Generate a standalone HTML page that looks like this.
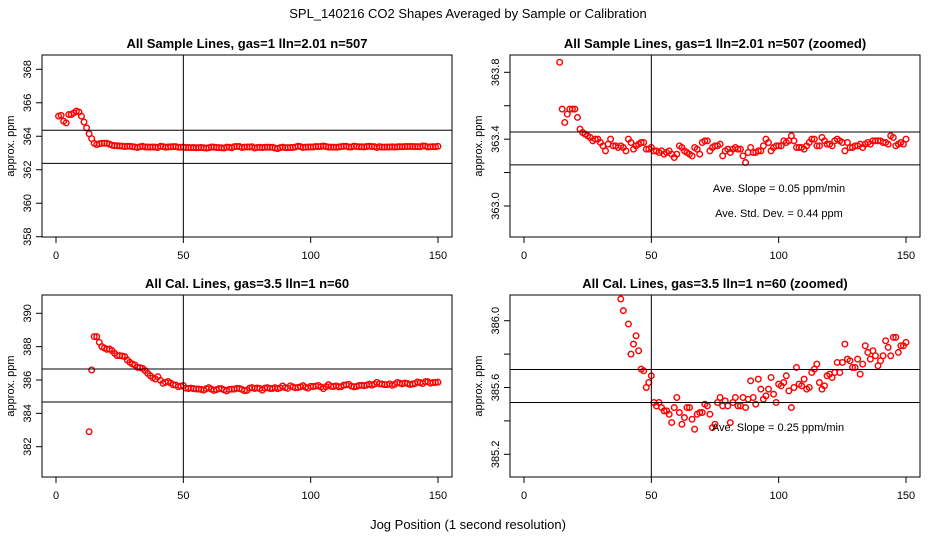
<!DOCTYPE html>
<html><head><meta charset="utf-8"><style>
html,body{margin:0;padding:0;background:#fff;width:936px;height:540px;overflow:hidden;}
svg{display:block;font-family:"Liberation Sans",sans-serif;}
</style></head><body>
<svg id="chart" width="936" height="540" viewBox="0 0 936 540" xmlns="http://www.w3.org/2000/svg">
<rect width="936" height="540" fill="#fff"/>
<text x="468" y="18" text-anchor="middle" font-size="13">SPL_140216  CO2 Shapes Averaged by Sample or Calibration</text>
<text x="468" y="529" text-anchor="middle" font-size="13">Jog Position (1 second resolution)</text>
</svg>
<script>
const xTicks = [0, 50, 100, 150];
const sampleValues = [365.2,365.25,364.9,364.8,365.3,365.3,365.4,365.5,365.45,365.2,364.85,364.5,364.15,
363.86,363.58,363.50,363.55,363.58,363.58,363.58,363.53,363.46,363.44,363.43,363.42,363.41,363.39,363.40,363.40,
363.38,363.36,363.33,363.37,363.40,363.36,363.36,363.35,363.36,363.35,363.33,363.40,363.38,363.34,363.36,363.37,
363.38,363.38,363.34,363.34,363.35,363.33,363.33,363.32,363.33,363.31,363.32,363.33,363.31,363.29,363.31,
363.36,363.35,363.33,363.32,363.31,363.30,363.35,363.34,363.31,363.38,363.39,363.39,363.33,363.35,363.36,
363.36,363.37,363.30,363.33,363.34,363.32,363.34,363.35,363.34,363.34,363.30,363.26,363.32,363.35,363.32,
363.32,363.33,363.33,363.36,363.40,363.38,363.33,363.35,363.36,363.36,363.36,363.39,363.38,363.39,363.42,
363.39,363.35,363.35,363.35,363.34,363.36,363.38,363.40,363.40,363.36,363.36,363.41,363.39,363.37,363.37,
363.36,363.39,363.40,363.39,363.38,363.33,363.38,363.35,363.35,363.36,363.36,363.37,363.35,363.37,363.38,
363.37,363.39,363.39,363.39,363.39,363.38,363.38,363.37,363.42,363.41,363.36,363.37,363.38,363.37,363.40];
const calValues = [null,null,null,null,null,null,null,null,null,null,null,null,
382.9,386.6,388.6,388.6,388.26,388.0,387.92,387.84,387.86,387.76,387.6,387.46,387.46,387.44,387.4,387.2,387.06,386.96,
386.9,386.76,386.74,386.7,386.56,386.4,386.26,386.13,386.06,386.2,385.98,385.80,385.86,385.91,385.82,385.71,385.70,385.60,385.63,385.67,
385.51,385.49,385.51,385.48,385.46,385.46,385.44,385.39,385.48,385.54,385.45,385.38,385.42,385.48,385.48,385.41,385.35,385.44,385.45,385.45,
385.50,385.49,385.44,385.36,385.38,385.51,385.54,385.49,385.52,385.49,385.39,385.51,385.54,385.49,385.49,385.54,385.48,385.53,385.64,385.54,
385.50,385.65,385.59,385.53,385.55,385.59,385.66,385.56,385.51,385.62,385.61,385.63,385.67,385.58,385.48,385.60,385.72,385.62,385.61,385.65,
385.59,385.60,385.69,385.71,385.74,385.63,385.59,385.61,385.67,385.68,385.66,385.69,385.75,385.69,385.75,385.86,385.77,385.76,385.72,385.72,
385.77,385.68,385.74,385.85,385.81,385.77,385.82,385.79,385.73,385.76,385.79,385.88,385.84,385.79,385.90,385.90,385.81,385.85,385.85,385.87];
const p1Ticks = [358,360,362,364,366,368];
const p2Ticks = [363.0,363.2,363.4,363.6,363.8];
const p3Ticks = [382,384,386,388,390];
const p4Ticks = [385.2,385.4,385.6,385.8,386.0];
const hLinesSample = [364.36, 362.38];
const hLinesCal = [386.66, 384.68];

const NS = "http://www.w3.org/2000/svg";
const svg = document.getElementById('chart');
function mk(tag, attrs, parent){ const e=document.createElementNS(NS,tag); for(const k in attrs) e.setAttribute(k,attrs[k]); (parent||svg).appendChild(e); return e; }

function panel(cfg){
  const g = mk('g',{});
  
  
  const L=cfg.ox+42, R=cfg.ox+452, T=cfg.oy+25, B=cfg.oy+207;
  const xs = v => cfg.ox+56 + v*(382/150);
  const ys = v => cfg.y0px + (v-cfg.y0)*(cfg.y1px-cfg.y0px)/(cfg.y1-cfg.y0);
  const t = mk('text',{x:(L+R)/2,y:cfg.oy+18,'text-anchor':'middle','font-size':13,'font-weight':'bold'},g);
  t.textContent = cfg.title;
  
  
  const yl = mk('text',{x:0,y:0,'text-anchor':'middle','font-size':11,transform:`translate(${cfg.ox+14},${(T+B)/2}) rotate(-90)`},g);
  yl.textContent='approx. ppm';
  
  
  const cid='clip'+cfg.name;
  const cp=mk('clipPath',{id:cid},g); mk('rect',{x:L,y:T,width:R-L,height:B-T},cp);
  const pts=mk('g',{'clip-path':`url(#${cid})`},g);
  cfg.data.forEach((v,i)=>{ if(v===null) return;
    const c=mk('circle',{cx:xs(i+1),cy:ys(v),r:2.8,fill:'none',stroke:'#f00','stroke-width':1.4},pts);
    
    
  });
  cfg.hlines.forEach(h=>{ const l=mk('line',{x1:L,x2:R,y1:ys(h),y2:ys(h),stroke:'#000','stroke-width':1},g);
    
     });
  const vl=mk('line',{x1:xs(50),x2:xs(50),y1:T,y2:B,stroke:'#000','stroke-width':1},g);
  
  
  const box=mk('rect',{x:L,y:T,width:R-L,height:B-T,fill:'none',stroke:'#000','stroke-width':1},g);
  
  
  xTicks.forEach(v=>{ mk('line',{x1:xs(v),x2:xs(v),y1:B,y2:B+6,stroke:'#000'},g);
    const tx=mk('text',{x:xs(v),y:B+22,'text-anchor':'middle','font-size':11},g); tx.textContent=v;
    
     });
  cfg.ticks.forEach((v,i)=>{ const y=ys(v); mk('line',{x1:L-6,x2:L,y1:y,y2:y,stroke:'#000'},g);
    if(cfg.labelEvery && i%cfg.labelEvery!==0) return;
    const tx=mk('text',{x:0,y:0,'text-anchor':'middle','font-size':11,transform:`translate(${L-11},${y}) rotate(-90)`},g);
    tx.textContent=cfg.fmt(v);
    
     });
  (cfg.notes||[]).forEach(n=>{ const tx=mk('text',{x:cfg.ox+n[0],y:cfg.oy+n[1],'text-anchor':'middle','font-size':11},g);
    tx.textContent=n[2];
    
     });
}
panel({name:'sample-panel',ox:0,oy:30,title:'All Sample Lines, gas=1 lln=2.01 n=507',data:sampleValues,ticks:p1Ticks,fmt:v=>String(v),
  y0:358,y0px:236.7,y1:368,y1px:69.3,hlines:hLinesSample});
panel({name:'sample-zoomed-panel',ox:468,oy:30,title:'All Sample Lines, gas=1 lln=2.01 n=507 (zoomed)',data:sampleValues,ticks:p2Ticks,fmt:v=>v.toFixed(1),labelEvery:2,
  y0:363.0,y0px:206,y1:363.8,y1px:72.3,hlines:[363.443,363.246],
  notes:[[311,162,'Ave. Slope =  0.05  ppm/min'],[311,187,'Ave. Std. Dev. =  0.44  ppm']]});
panel({name:'cal-panel',ox:0,oy:270,title:'All Cal. Lines, gas=3.5 lln=1 n=60',data:calValues,ticks:p3Ticks,fmt:v=>String(v),
  y0:382,y0px:446.7,y1:390,y1px:313.3,hlines:hLinesCal});
panel({name:'cal-zoomed-panel',ox:468,oy:270,title:'All Cal. Lines, gas=3.5 lln=1 n=60 (zoomed)',data:calValues,ticks:p4Ticks,fmt:v=>v.toFixed(1),labelEvery:2,
  y0:385.2,y0px:454.3,y1:386.0,y1px:320.7,hlines:[385.708,385.51],
  notes:[[310,161,'Ave. Slope =  0.25  ppm/min']]});
</script>
</body></html>
